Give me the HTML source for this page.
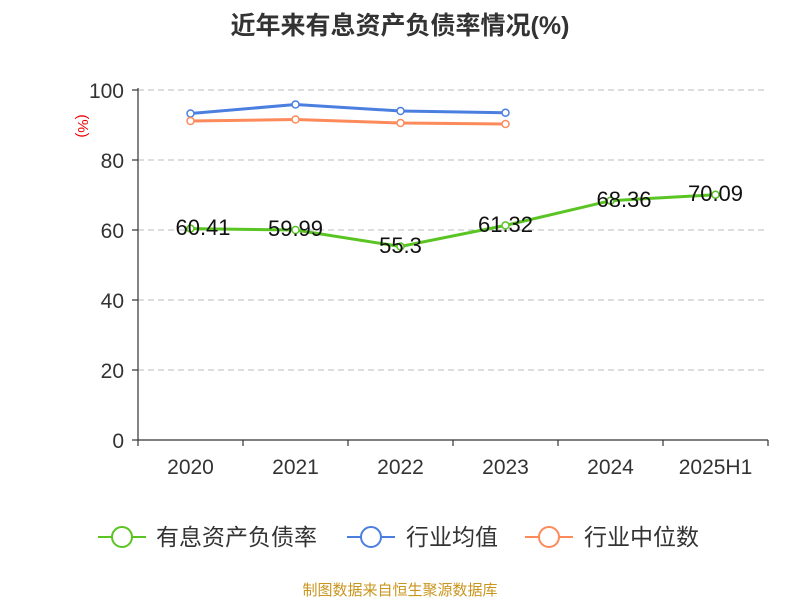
<!DOCTYPE html>
<html><head><meta charset="utf-8"><style>
body{margin:0;background:#fff;}
svg{display:block;font-family:"Liberation Sans","Noto Sans CJK SC",sans-serif;}
</style></head><body>
<svg width="800" height="600" viewBox="0 0 800 600">
<text x="400" y="34" text-anchor="middle" font-size="25" font-weight="bold" fill="#333">近年来有息资产负债率情况(%)</text>
<text x="78" y="126" font-size="15" fill="#e00" transform="rotate(90 78 126)" text-anchor="middle">(%)</text>
<g stroke="#bbb" stroke-dasharray="6,4" stroke-width="1">
<line x1="138" x2="768" y1="90" y2="90"/><line x1="138" x2="768" y1="160" y2="160"/>
<line x1="138" x2="768" y1="230" y2="230"/><line x1="138" x2="768" y1="300" y2="300"/>
<line x1="138" x2="768" y1="370" y2="370"/>
</g>
<g stroke="#333" stroke-width="1.2">
<line x1="138" y1="88" x2="138" y2="440"/><line x1="138" y1="440" x2="768" y2="440"/>
<line x1="132" x2="138" y1="90" y2="90"/><line x1="132" x2="138" y1="160" y2="160"/><line x1="132" x2="138" y1="230" y2="230"/><line x1="132" x2="138" y1="300" y2="300"/><line x1="132" x2="138" y1="370" y2="370"/><line x1="132" x2="138" y1="440" y2="440"/>
<line x1="138" x2="138" y1="440" y2="446"/><line x1="243" x2="243" y1="440" y2="446"/><line x1="348" x2="348" y1="440" y2="446"/><line x1="453" x2="453" y1="440" y2="446"/><line x1="558" x2="558" y1="440" y2="446"/><line x1="663" x2="663" y1="440" y2="446"/><line x1="768" x2="768" y1="440" y2="446"/>
</g>
<g font-size="21" fill="#333" text-anchor="end">
<text x="124" y="98">100</text><text x="124" y="168">80</text><text x="124" y="238">60</text><text x="124" y="308">40</text><text x="124" y="378">20</text><text x="124" y="448">0</text>
</g>
<g font-size="21" fill="#333" text-anchor="middle">
<text x="190.5" y="474">2020</text><text x="295.5" y="474">2021</text><text x="400.5" y="474">2022</text><text x="505.5" y="474">2023</text><text x="610.5" y="474">2024</text><text x="715.5" y="474">2025H1</text>
</g>
<polyline fill="none" stroke="#4a7fe0" stroke-width="3" points="190.5,113.5 295.5,104.5 400.5,111 505.5,112.7"/>
<polyline fill="none" stroke="#fc8a5a" stroke-width="3" points="190.5,121 295.5,119.5 400.5,123 505.5,124"/>
<polyline fill="none" stroke="#5ac423" stroke-width="3" points="190.5,228.6 295.5,230 400.5,246.5 505.5,225.4 610.5,200.7 715.5,194.7"/>
<g fill="#fff" stroke-width="1.5">
<g stroke="#4a7fe0"><circle cx="190.5" cy="113.5" r="3.5"/><circle cx="295.5" cy="104.5" r="3.5"/><circle cx="400.5" cy="111" r="3.5"/><circle cx="505.5" cy="112.7" r="3.5"/></g>
<g stroke="#fc8a5a"><circle cx="190.5" cy="121" r="3.5"/><circle cx="295.5" cy="119.5" r="3.5"/><circle cx="400.5" cy="123" r="3.5"/><circle cx="505.5" cy="124" r="3.5"/></g>
<g stroke="#5ac423"><circle cx="190.5" cy="228.6" r="3.5"/><circle cx="295.5" cy="230" r="3.5"/><circle cx="400.5" cy="246.5" r="3.5"/><circle cx="505.5" cy="225.4" r="3.5"/><circle cx="610.5" cy="200.7" r="3.5"/><circle cx="715.5" cy="194.7" r="3.5"/></g>
</g>
<g font-size="22" fill="#111" text-anchor="middle">
<text x="203" y="235">60.41</text><text x="295.5" y="236">59.99</text><text x="400.5" y="253">55.3</text><text x="505.5" y="232">61.32</text><text x="624" y="207">68.36</text><text x="715.5" y="201">70.09</text>
</g>
<g stroke-width="2" fill="#fff">
<line x1="98" x2="146" y1="537" y2="537" stroke="#5ac423"/><circle cx="122" cy="537" r="10" stroke="#5ac423"/>
<line x1="347" x2="395" y1="537" y2="537" stroke="#4a7fe0"/><circle cx="371" cy="537" r="10" stroke="#4a7fe0"/>
<line x1="525" x2="573" y1="537" y2="537" stroke="#fc8a5a"/><circle cx="549" cy="537" r="10" stroke="#fc8a5a"/>
</g>
<g font-size="23" fill="#333">
<text x="156" y="545">有息资产负债率</text><text x="406" y="545">行业均值</text><text x="584" y="545">行业中位数</text>
</g>
<text x="400" y="595" text-anchor="middle" font-size="15" fill="#c8961e">制图数据来自恒生聚源数据库</text>
</svg>
</body></html>
